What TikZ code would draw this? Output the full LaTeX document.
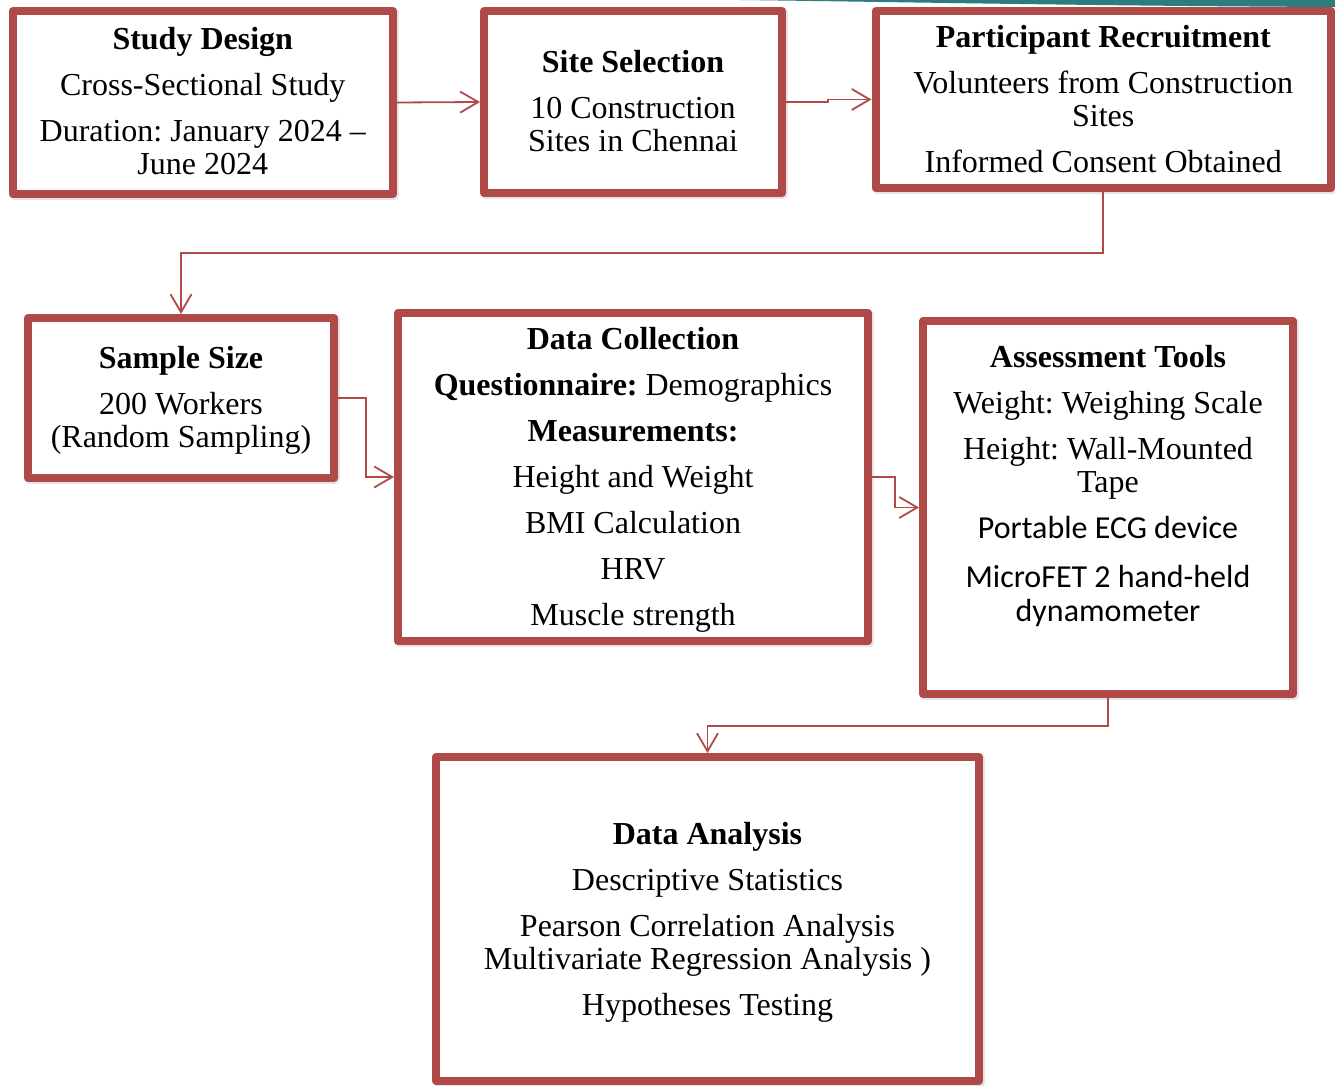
\documentclass[tikz,border=0pt]{standalone}
\usepackage{fontspec}
\setmainfont{Liberation Serif}
\newfontfamily\calib{Carlito}
\frenchspacing
\usetikzlibrary{arrows.meta,shadows}
\definecolor{boxred}{RGB}{176,74,72}
\definecolor{tealband}{RGB}{44,126,126}
\begin{document}
\frenchspacing
\begin{tikzpicture}[x=1pt,y=-1pt,
  box/.style={draw=boxred, line width=8pt, fill=white, line join=round, inner sep=0pt,
    drop shadow={draw=black!30, fill=black!30, line width=9pt, shadow xshift=1.5pt, shadow yshift=-1.5pt, opacity=0.35}},
  txt/.style={align=center, anchor=north, inner sep=0pt, font=\fontsize{32}{33.5}\selectfont\frenchspacing},
  conn/.style={draw=boxred, line width=1.8pt, -{Straight Barb[length=18pt,width=21pt,line width=1.8pt]}}]
\useasboundingbox[fill=white] (0,0) rectangle (1335,1086);
\fill[tealband] (740,0) .. controls (900,2) and (1100,6) .. (1335,7) -- (1335,0) -- cycle;

\node[box, minimum width=380.5pt, minimum height=183pt] (b1) at (202.75,102.5) {};
\node[box, minimum width=298pt, minimum height=182pt] (b2) at (633,102) {};
\node[box, minimum width=455.5pt, minimum height=177pt] (b3) at (1103.25,99.5) {};
\node[box, minimum width=306pt, minimum height=160pt] (b4) at (181,398) {};
\node[box, minimum width=470pt, minimum height=328pt] (b5) at (633,477) {};
\node[box, minimum width=370pt, minimum height=373pt] (b6) at (1108,507.5) {};
\node[box, minimum width=543pt, minimum height=324pt] (b7) at (707.5,919) {};

\node[txt] (t1) at (202.75,26) {\rule{0pt}{23pt}\textbf{Study Design}\\[12.5pt] Cross-Sectional Study\\[12.5pt] Duration: January 2024 –\\ June 2024};
\node[txt] (t2) at (633,49) {\rule{0pt}{23pt}\textbf{Site Selection}\\[12.5pt] 10 Construction\\ Sites in Chennai};
\node[txt] (t3) at (1103.25,24) {\rule{0pt}{23pt}\textbf{Participant Recruitment}\\[12.5pt] Volunteers from Construction\\ Sites\\[12.5pt] Informed Consent Obtained};
\node[txt] (t4) at (181,345) {\rule{0pt}{23pt}\textbf{Sample Size}\\[12.5pt] 200 Workers\\ (Random Sampling)};
\node[txt] (t5) at (633,326) {\rule{0pt}{23pt}\textbf{Data Collection}\\[12.5pt] \textbf{Questionnaire:} Demographics\\[12.5pt] \textbf{Measurements:}\\[12.5pt] Height and Weight\\[12.5pt] BMI Calculation\\[12.5pt] HRV\\[12.5pt] Muscle strength};
\node[txt] (t6) at (1108,344) {\rule{0pt}{23pt}\textbf{Assessment Tools}\\[12.5pt] Weight: Weighing Scale\\[12.5pt] Height: Wall-Mounted\\ Tape\\[12.5pt] {\calib Portable ECG device}\\[15.5pt] {\calib MicroFET 2 hand-held}\\ {\calib dynamometer}};
\node[txt] (t7) at (707.5,821) {\rule{0pt}{23pt}\textbf{Data Analysis}\\[12.5pt] Descriptive Statistics\\[12.5pt] Pearson Correlation Analysis\\ Multivariate Regression Analysis )\\[12.5pt] Hypotheses Testing};

\draw[conn] (b1.east) -- (b2.west);
\draw[conn] (b2.east) -- ++(42,0) |- (b3.west);
\draw[conn] (b3.south) -- ++(0,61) -| (b4.north);
\draw[conn] (b4.east) -- ++(28,0) |- (b5.west);
\draw[conn] (b5.east) -- ++(23,0) |- (b6.west);
\draw[conn] (b6.south) -- ++(0,28) -| (b7.north);
\end{tikzpicture}
\end{document}
